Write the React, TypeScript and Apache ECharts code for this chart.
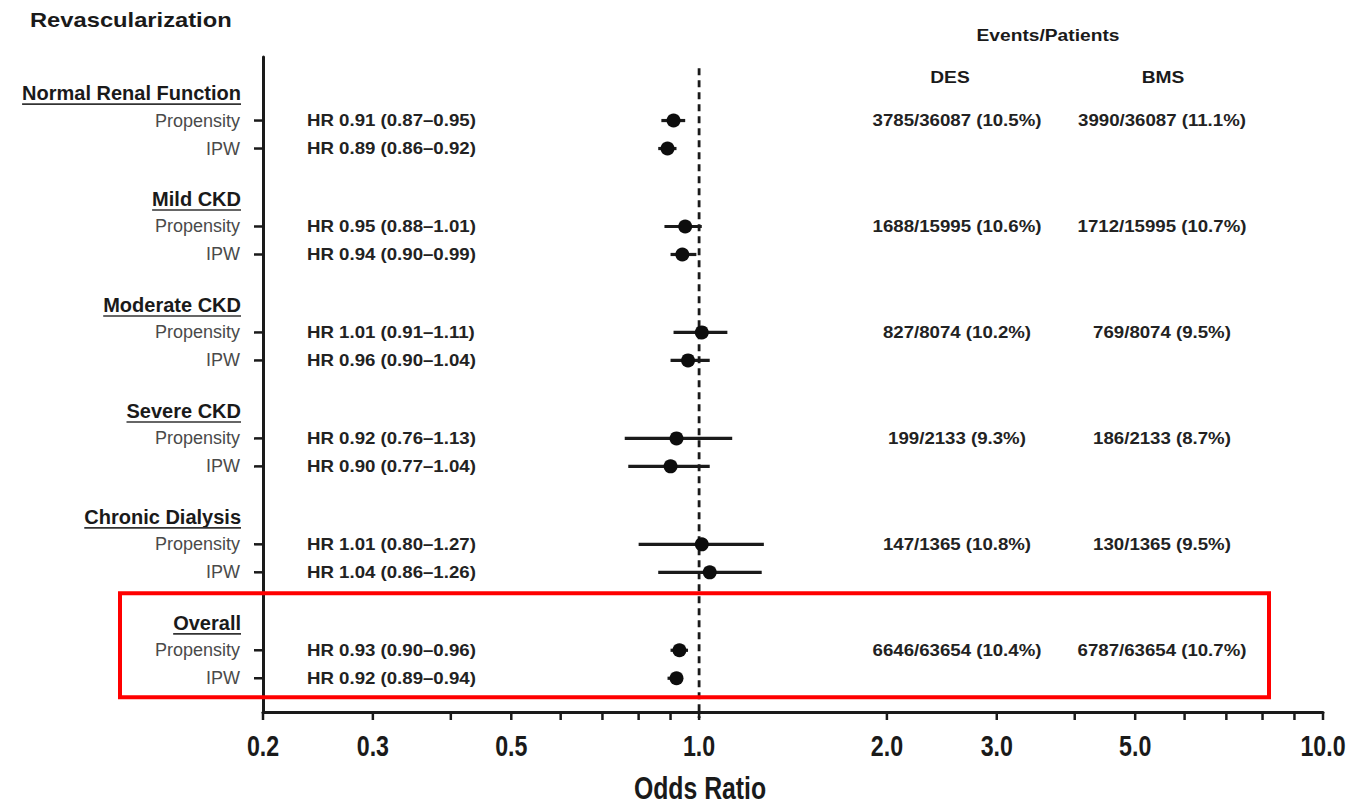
import React, { useEffect, useRef } from "react";
import * as echarts from "echarts";

const groups = ["Normal Renal Function", "Mild CKD", "Moderate CKD", "Severe CKD", "Chronic Dialysis", "Overall"];
const methods = ["Propensity", "IPW"];
const hrValues = [[0.91, 0.89], [0.95, 0.94], [1.01, 0.96], [0.92, 0.9], [1.01, 1.04], [0.93, 0.92]];
const ciLower = [[0.87, 0.86], [0.88, 0.9], [0.91, 0.9], [0.76, 0.77], [0.8, 0.86], [0.9, 0.89]];
const ciUpper = [[0.95, 0.92], [1.01, 0.99], [1.11, 1.04], [1.13, 1.04], [1.27, 1.26], [0.96, 0.94]];
const desEvents = ["3785/36087 (10.5%)", "1688/15995 (10.6%)", "827/8074 (10.2%)", "199/2133 (9.3%)", "147/1365 (10.8%)", "6646/63654 (10.4%)"];
const bmsEvents = ["3990/36087 (11.1%)", "1712/15995 (10.7%)", "769/8074 (9.5%)", "186/2133 (8.7%)", "130/1365 (9.5%)", "6787/63654 (10.7%)"];
const tickValues = [0.2, 0.3, 0.4, 0.5, 0.6, 0.7, 0.8, 0.9, 1, 2, 3, 4, 5, 6, 7, 8, 9, 10];
const tickLabels = [0.2, 0.3, 0.5, 1, 2, 3, 5, 10];
const highlightGroup = 5;

const FF = "'Liberation Sans', Arial, Helvetica, sans-serif";
const INK = "#1a1a1a";

const X_MIN = 0.2;
const X_MAX = 10;
const Y_MAX = 23.4;
const headerY = (g: number) => 1.29 + g * 3.785;

function measure(text: string, font: string) {
  const ctx = document.createElement("canvas").getContext("2d");
  if (!ctx) return text.length * 10;
  ctx.font = font;
  return ctx.measureText(text).width;
}

const txt = (text: string, x: number, y: number, font: string, align: string, fill = INK, sx = 1) => ({
  type: "text",
  x,
  y,
  scaleX: sx,
  style: {
    text,
    x: 0,
    y: 0,
    font,
    fill,
    align,
    verticalAlign: "middle",
    textAlign: align,
    textVerticalAlign: "middle",
  },
});

export default function App() {
  const ref = useRef<HTMLDivElement>(null);

  useEffect(() => {
    if (!ref.current) return;
    const chart = echarts.init(ref.current, undefined, { renderer: "svg" });

    const rows: number[][] = [];
    groups.forEach((_, g) => {
      methods.forEach((__, k) => {
        rows.push([hrValues[g][k], ciLower[g][k], ciUpper[g][k], headerY(g) + 0.98 + k, g, k]);
      });
    });
    const points = rows.map((r) => [r[0], r[3]]);
    const headerData = groups.map((_, g) => [X_MIN, headerY(g), g]);
    const headerFont = `bold 20px ${FF}`;
    const bodyFont = `bold 16.5px ${FF}`;
    const WIDE = 1.13;
    const COND = 0.8;

    const option: any = {
      animation: false,
      grid: { left: 263, top: 57, width: 1060, height: 655 },
      xAxis: {
        type: "log",
        logBase: 10,
        min: X_MIN,
        max: X_MAX,
        axisLine: { show: true, onZero: false, lineStyle: { color: INK, width: 3 } },
        axisTick: { show: false },
        axisLabel: { show: false },
        splitLine: { show: false },
        minorTick: { show: false },
      },
      yAxis: {
        type: "value",
        inverse: true,
        min: 0,
        max: Y_MAX,
        axisLine: { show: true, onZero: false, lineStyle: { color: INK, width: 3 } },
        axisTick: { show: false },
        axisLabel: { show: false },
        splitLine: { show: false },
      },
      graphic: [
        txt("Revascularization", 30, 20, `bold 21px ${FF}`, "left", INK, WIDE),
        txt("Events/Patients", 1048, 35, `bold 17px ${FF}`, "center", INK, WIDE),
        txt("DES", 950, 77, `bold 17px ${FF}`, "center", INK, WIDE),
        txt("BMS", 1163, 77, `bold 17px ${FF}`, "center", INK, WIDE),
        txt("Odds Ratio", 700, 789, `bold 31px ${FF}`, "center", INK, COND),
      ],
      series: [
        {
          type: "custom",
          name: "ref",
          data: [[1]],
          encode: { x: 0 },
          z: 1,
          renderItem: (params: any, api: any) => {
            const top = api.coord([api.value(0), 0.4]);
            const bot = api.coord([api.value(0), Y_MAX]);
            return {
              type: "line",
              shape: { x1: top[0], y1: top[1], x2: bot[0], y2: bot[1] + 6 },
              style: { stroke: INK, lineWidth: 2.8, lineDash: [7, 5] },
            };
          },
        },
        {
          type: "custom",
          name: "xticks",
          data: tickValues.map((v) => [v]),
          encode: { x: 0 },
          z: 2,
          renderItem: (params: any, api: any) => {
            const v = api.value(0);
            const p = api.coord([v, Y_MAX]);
            const children: any[] = [
              { type: "line", shape: { x1: p[0], y1: p[1], x2: p[0], y2: p[1] + 8 }, style: { stroke: INK, lineWidth: 2.5 } },
            ];
            if (tickLabels.indexOf(v) >= 0) {
              children.push(txt(v.toFixed(1), p[0], p[1] + 34, `bold 29px ${FF}`, "center", INK, COND));
            }
            return { type: "group", children };
          },
        },
        {
          type: "custom",
          name: "headers",
          data: headerData,
          encode: { x: 0, y: 1 },
          z: 3,
          renderItem: (params: any, api: any) => {
            const g = api.value(2);
            const p = api.coord([X_MIN, api.value(1)]);
            const right = p[0] - 22;
            const w = measure(groups[g], headerFont);
            return {
              type: "group",
              children: [
                txt(groups[g], right, p[1], headerFont, "right"),
                { type: "line", shape: { x1: right - w, y1: p[1] + 11, x2: right, y2: p[1] + 11 }, style: { stroke: "#333", lineWidth: 1.6 } },
              ],
            };
          },
        },
        {
          type: "custom",
          name: "rows",
          data: rows,
          encode: { x: [0, 1, 2], y: 3 },
          z: 4,
          renderItem: (params: any, api: any) => {
            const hr = api.value(0);
            const lo = api.value(1);
            const hi = api.value(2);
            const y = api.value(3);
            const g = api.value(4);
            const k = api.value(5);
            const a = api.coord([X_MIN, y]);
            const pl = api.coord([lo, y]);
            const ph = api.coord([hi, y]);
            const children: any[] = [
              { type: "line", shape: { x1: pl[0], y1: pl[1], x2: ph[0], y2: ph[1] }, style: { stroke: INK, lineWidth: 3.2 } },
              { type: "line", shape: { x1: a[0] - 9, y1: a[1], x2: a[0], y2: a[1] }, style: { stroke: INK, lineWidth: 2.5 } },
              txt(methods[k], a[0] - 23, a[1], `18px ${FF}`, "right", "#4a4a4a"),
              txt(`HR ${hr.toFixed(2)} (${lo.toFixed(2)}–${hi.toFixed(2)})`, a[0] + 44, a[1], bodyFont, "left", "#222", WIDE),
            ];
            if (k === 0) {
              children.push(txt(desEvents[g], 957, a[1], bodyFont, "center", "#222", WIDE));
              children.push(txt(bmsEvents[g], 1162, a[1], bodyFont, "center", "#222", WIDE));
            }
            return { type: "group", children };
          },
        },
        {
          type: "scatter",
          name: "HR",
          data: points,
          symbol: "circle",
          symbolSize: 14,
          itemStyle: { color: "#0d0d0d", opacity: 1 },
          z: 5,
        },
        {
          type: "custom",
          name: "highlight",
          data: [[X_MAX, headerY(highlightGroup), highlightGroup]],
          encode: { x: 0, y: 1 },
          z: 6,
          renderItem: (params: any, api: any) => {
            const hy = api.value(1);
            const tl = api.coord([X_MIN, hy - 1.06]);
            const br = api.coord([X_MAX, hy + 2.66]);
            const left = tl[0] - 143;
            const right = br[0] - 54;
            return {
              type: "rect",
              shape: { x: left, y: tl[1], width: right - left, height: br[1] - tl[1] },
              style: { fill: "none", stroke: "#ff0000", lineWidth: 4 },
            };
          },
        },
      ],
    };

    chart.setOption(option);
    return () => chart.dispose();
  }, []);

  return <div ref={ref} style={{ position: "fixed", left: 0, top: 0, width: 1355, height: 807, background: "#fff" }} />;
}
